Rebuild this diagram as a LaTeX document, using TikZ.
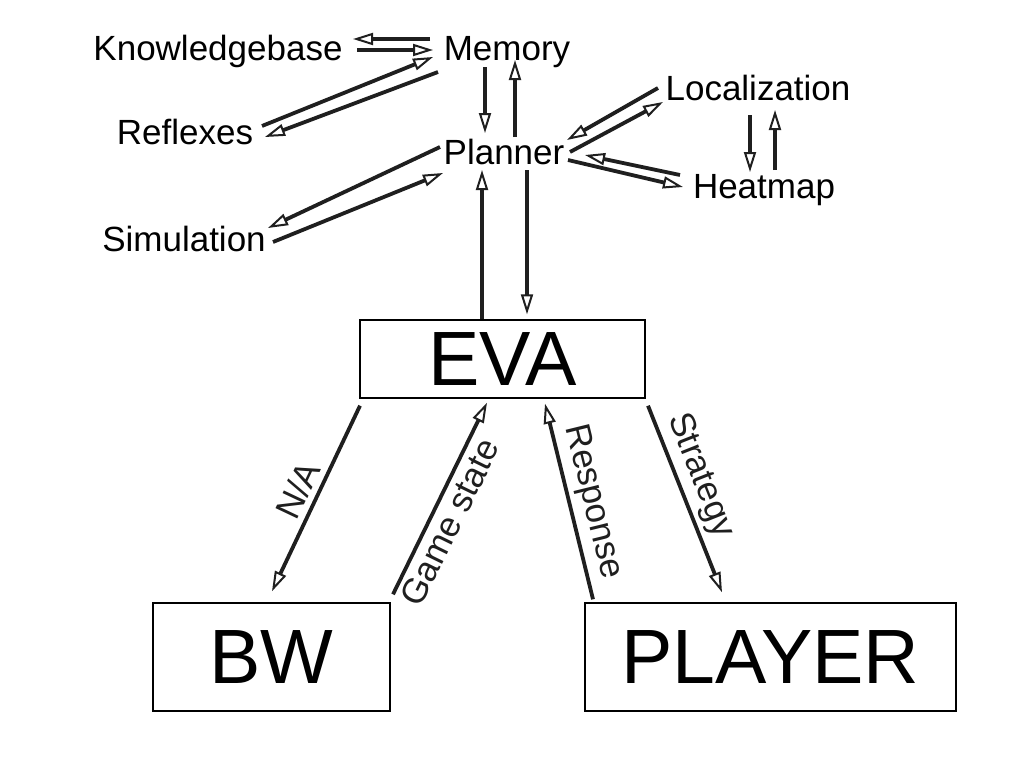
\documentclass[tikz,border=0pt]{standalone}
\usepackage{fontspec}
\setmainfont{Liberation Sans}
\usetikzlibrary{arrows.meta, calc}

\begin{document}
\begin{tikzpicture}[x=1pt, y=-1pt,
    >={Triangle[open, length=20pt, width=12pt, line width=2pt]},
    flow/.style={->, line width=3.8pt, color=black!88},
    word/.style={font=\fontsize{35}{42}\selectfont, inner sep=0pt, anchor=base},
    bigbox/.style={draw, line width=1.4pt, font=\fontsize{77}{90}\selectfont, inner sep=0pt},
    tag/.style={font=\fontsize{35}{42}\selectfont, sloped, inner sep=5pt}]

    \useasboundingbox (0,0) rectangle (1024,768);

    % small modules
    \node[word] (kb)   at (218,60)  {Knowledgebase};
    \node[word] (mem)  at (507,60)  {Memory};
    \node[word] (refl) at (185,144) {Reflexes};
    \node[word] (plan) at (504,164) {Planner};
    \node[word] (loc)  at (758,100) {Localization};
    \node[word] (heat) at (764,198) {Heatmap};
    \node[word] (sim)  at (184,251) {Simulation};

    % main boxes
    \node[bigbox, minimum width=285pt, minimum height=78pt]  (eva)    at (502.5,359) {EVA};
    \node[bigbox, minimum width=237pt, minimum height=108pt] (bw)     at (271.5,657) {BW};
    \node[bigbox, minimum width=371pt, minimum height=108pt] (player) at (770.5,657) {PLAYER};

    % memory links
    \draw[flow] ($(mem.base)+(-77,-21)$) -- ($(kb.base)+(135,-21)$);
    \draw[flow] ($(kb.base)+(139,-10)$) -- ($(mem.base)+(-74,-10)$);
    \draw[flow] ($(refl.base)+(77,-18)$) -- ($(mem.base)+(-74,-3)$);
    \draw[flow] ($(mem.base)+(-69,12)$) -- ($(refl.base)+(80,-7)$);
    \draw[flow] ($(mem.base)+(-22,7)$) -- ($(plan.base)+(-19,-31)$);
    \draw[flow] ($(plan.base)+(11,-27)$) -- ($(mem.base)+(8,0)$);

    % planner links
    \draw[flow] ($(plan.base)+(-64,-17)$) -- ($(sim.base)+(84,-23)$);
    \draw[flow] ($(sim.base)+(89,-9)$) -- ($(plan.base)+(-61,9)$);
    \draw[flow] ($(loc.base)+(-100,-12)$) -- ($(plan.base)+(63,-24)$);
    \draw[flow] ($(plan.base)+(66,-12)$) -- ($(loc.base)+(-95,2)$);
    \draw[flow] ($(heat.base)+(-84,-23)$) -- ($(plan.base)+(81,-9)$);
    \draw[flow] ($(plan.base)+(64,-4)$) -- ($(heat.base)+(-81,-11)$);
    \draw[flow] ($(loc.base)+(-8,15)$) -- ($(heat.base)+(-14,-26)$);
    \draw[flow] ($(heat.base)+(11,-28)$) -- ($(loc.base)+(17,10)$);

    % eva and planner
    \draw[flow] ($(eva.north)+(-20.5,0)$) -- ($(plan.base)+(-22,6)$);
    \draw[flow] ($(plan.base)+(23,6)$) -- ($(eva.north)+(24.5,-5)$);

    % eva and the game
    \draw[flow] ($(eva.south)+(-142.5,7)$) -- node[tag, above, pos=0.5] {N/A} ($(bw.north)+(0.5,-11)$);
    \draw[flow] ($(bw.north)+(121.5,-8)$) -- node[tag, below, pos=0.42] {Game state} ($(eva.south)+(-15.5,4)$);
    \draw[flow] ($(player.north)+(-177.5,-3)$) -- node[tag, above, pos=0.47] {Response} ($(eva.south)+(42.5,5)$);
    \draw[flow] ($(eva.south)+(145.5,7)$) -- node[tag, above, pos=0.42] {Strategy} ($(player.north)+(-48.5,-10)$);
\end{tikzpicture}
\end{document}
